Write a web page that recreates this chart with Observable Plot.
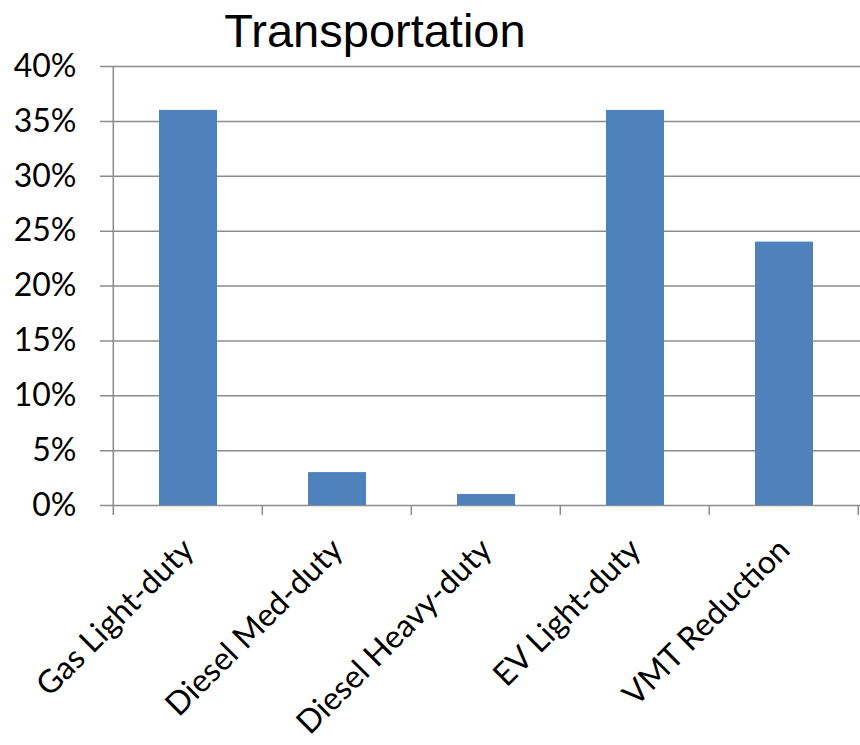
<!DOCTYPE html>
<html><head><meta charset="utf-8">
<script src="https://cdn.jsdelivr.net/npm/d3@7"></script>
<script src="https://cdn.jsdelivr.net/npm/@observablehq/plot@0.6"></script>
<style>
body{margin:0;background:#fff}
#wrap{position:relative;width:860px;height:745px}
#title{position:absolute;left:0;top:7px;width:750px;text-align:center;font:47px "Liberation Sans",Arial,sans-serif;line-height:1;color:#000}
</style>
</head><body><div id="wrap"><div id="title">Transportation</div></div>
<script>
const categories = ["Gas Light-duty", "Diesel Med-duty", "Diesel Heavy-duty", "EV Light-duty", "VMT Reduction"];
const values = [0.36, 0.03, 0.01, 0.36, 0.24];
const yTicks = [0, 0.05, 0.10, 0.15, 0.20, 0.25, 0.30, 0.35, 0.40];

const data = categories.map((c, i) => ({category: c, value: values[i]}));
const gridColor = "#8c8c8c";
const padOuter = 0.3;

function boundaryTicks(index, scales) {
  const x = scales.x, y = scales.y;
  const step = x(categories[1]) - x(categories[0]);
  const x0 = x(categories[0]) - padOuter * step;
  const yb = y(0);
  const g = d3.create("svg:g").attr("stroke", gridColor).attr("stroke-width", 1.5);
  for (let i = 0; i <= categories.length; i++) {
    const xx = x0 + i * step;
    g.append("line").attr("x1", xx).attr("x2", xx).attr("y1", i === 0 ? y(yTicks[yTicks.length - 1]) : yb).attr("y2", yb + 10);
  }
  return g.node();
}

const chart = Plot.plot({
  width: 860, height: 745,
  marginTop: 66, marginBottom: 240, marginLeft: 111, marginRight: 0,
  style: {fontFamily: "Lato, sans-serif", fontSize: "31px", color: "#000", background: "#fff", overflow: "visible"},
  x: {domain: categories, paddingInner: 0.6, paddingOuter: padOuter, axis: null},
  y: {domain: [0, 0.4], axis: null},
  marks: [
    Plot.ruleY(yTicks, {stroke: gridColor, strokeWidth: 1.5, insetLeft: -11}),
    Plot.barY(data, {x: "category", y: "value", fill: "#4f81bd", insetLeft: 1, insetRight: 1}),
    Plot.axisY(yTicks, {tickFormat: d3.format(".0%"), tickSize: 0, tickPadding: 35, fontSize: 32, fill: "#000", label: null}),
    boundaryTicks,
    Plot.text(data, {x: "category", text: "category", frameAnchor: "bottom", rotate: -45, textAnchor: "end", lineAnchor: "middle", dy: 39, fontSize: 32, fill: "#000"})
  ]
});
document.getElementById("wrap").appendChild(chart);
</script>
</body></html>
